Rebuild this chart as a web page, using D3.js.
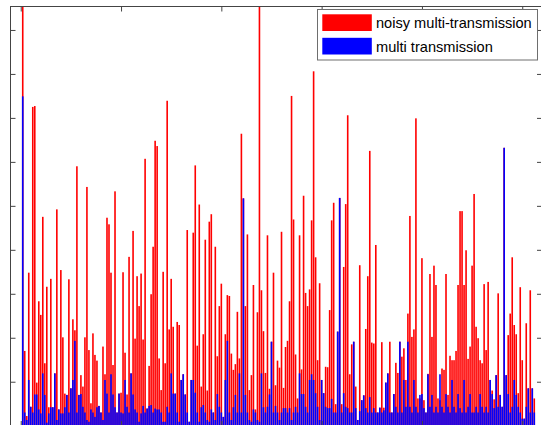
<!DOCTYPE html>
<html lang="en">
<head>
    <meta charset="UTF-8">
    <title>multi transmission bars</title>
    <script src="https://d3js.org/d3.v7.min.js"></script>
    <style>
        body{ margin:0; background:#fff; }
        text{ font-family: "Liberation Sans", Arial, sans-serif; }
    </style>
</head>
<body>
<svg id="chart" width="541" height="425"></svg>

<script>
    // noisy multi-transmission (red), one value per sample 1..256
    let noisy = [
        11, 1.70, 0.22, 3.48, 0.43, 7.25, 7.27, 0.98, 2.83, 2.52,
        4.75, 1.42, 3.16, 0.42, 3.34, 0.42, 1.19, 4.92, 0.37, 3.54,
        2.01, 0.73, 0.70, 3.33, 0.85, 2.42, 2.17, 5.90, 0.70, 1.15,
        0.89, 2.01, 5.43, 1.72, 0.51, 2.10, 1.61, 1.48, 0.45, 0.30,
        1.80, 1.17, 4.73, 4.58, 3.48, 1.38, 5.33, 0.30, 0.73, 0.75,
        3.49, 1.66, 0.71, 3.84, 1.19, 4.43, 1.98, 3.40, 2.72, 3.46,
        1.96, 6.07, 0.39, 1.36, 2.99, 4.07, 6.48, 6.36, 1.53, 0.81,
        3.50, 1.42, 7.39, 2.19, 3.34, 2.25, 0.73, 2.36, 2.29, 1.04,
        1.17, 0.71, 4.45, 0.09, 1.04, 4.39, 5.92, 1.82, 5.03, 0.89,
        2.08, 4.23, 0.80, 4.64, 4.81, 0.30, 4.07, 1.58, 2.72, 3.23,
        0.20, 2.08, 2.97, 2.95, 1.64, 1.27, 1.40, 2.59, 1.53, 6.64,
        5.17, 2.72, 4.35, 0.81, 1.15, 3.20, 0.37, 2.58, 11, 3.08,
        2.15, 1.20, 4.33, 0.84, 1.91, 3.48, 0.92, 1.48, 1.32, 4.41,
        0.86, 1.79, 1.93, 2.83, 7.5, 4.69, 1.62, 0.62, 4.33, 1.28,
        5.23, 3.02, 2.72, 3.1, 4.67, 8.06, 3.83, 1.49, 3.24, 1.04,
        0.74, 1.34, 1.33, 2.63, 4.67, 5.07, 0.49, 2.14, 5.18, 0.49,
        3.61, 5.04, 7.06, 1.17, 1.85, 1.91, 0.89, 0.13, 3.65, 0.58,
        0.69, 2.20, 3.40, 6.25, 1.89, 1.87, 4.11, 0.30, 0.41, 1.90,
        0.41, 0.98, 1.19, 1.91, 0.30, 0.72, 1.43, 1.2, 1.91, 1.57,
        1.76, 1.04, 2.55, 4.77, 2.02, 2.19, 6.99, 0.62, 0.62, 3.81,
        0.58, 0.30, 1.18, 3.45, 2.02, 3.64, 3.2, 0.62, 0.58, 1.30,
        1.27, 3.45, 0.70, 1.59, 1.49, 1.49, 1.70, 3.2, 4.88, 4.88,
        3.2, 3.99, 1.52, 1.80, 3.64, 5.27, 2.25, 1.99, 1.49, 1.42,
        3.22, 1.72, 3.27, 1.04, 0.8, 0.6, 1.15, 3.01, 0.70, 0.43,
        6.32, 1.15, 2.06, 2.55, 3.83, 2.29, 2.08, 0.74, 3.15, 1.49,
        0.16, 2.33, 0.85, 3.08, 0.85, 0.62
    ]
    // multi transmission (blue)
    let clean = [
        7.49, 0.30, 0.13, 1.04, 0.43, 0.30, 0.71, 0.71, 0.37, 0.28,
        1.19, 0.70, 0.07, 0.28, 0.42, 0.42, 1.19, 0.13, 0.37, 0.28,
        0.28, 0.42, 0.70, 0.30, 0.85, 1.04, 1.93, 0.30, 0.70, 0.72,
        0.43, 0.30, 0.13, 0.09, 0.37, 0.30, 0.20, 0.42, 0.45, 0.30,
        0.13, 1.04, 0.73, 0.30, 1.17, 0.71, 0.42, 0.30, 0.73, 0.30,
        0.28, 1.04, 0.43, 0.30, 1.19, 0.71, 0.37, 0.30, 0.09, 0.28,
        0.45, 0.30, 0.39, 0.45, 0.47, 0.30, 0.39, 0.37, 0.37, 0.30,
        0.09, 0.09, 0.43, 0.30, 1.19, 0.73, 0.73, 0.30, 0.09, 1.04,
        1.17, 0.71, 0.30, 0.09, 1.04, 1.04, 0.75, 0.30, 0.09, 0.42,
        0.47, 0.30, 0.13, 0.09, 0.37, 0.30, 0.13, 0.72, 0.43, 0.30,
        0.20, 1.04, 1.93, 0.30, 0.13, 0.42, 0.70, 0.30, 1.19, 0.30,
        5.17, 0.70, 0.30, 0.13, 0.09, 0.37, 0.30, 0.13, 0.09, 1.19,
        0.42, 0.30, 0.43, 0.71, 1.91, 0.30, 0.45, 0.30, 0.13, 0.30,
        0.40, 0.40, 0.30, 0.40, 0.13, 0.30, 0.43, 0.30, 1.19, 0.72,
        0.72, 0.43, 0.30, 1.04, 1.17, 1.04, 0.74, 0.43, 0.13, 1.04,
        0.74, 0.43, 0.40, 0.40, 0.61, 0.30, 0.30, 2.14, 5.18, 0.30,
        0.74, 0.43, 0.40, 0.30, 0.30, 1.91, 0.40, 0.13, 0.33, 0.58,
        0.69, 0.40, 0.30, 0.65, 0.30, 0.40, 0.30, 0.30, 0.41, 0.30,
        0.35, 0.98, 1.19, 0.30, 0.30, 0.72, 0.43, 0.30, 1.91, 0.30,
        1.04, 0.43, 1.91, 0.43, 0.30, 1.04, 0.43, 0.30, 0.70, 0.72,
        0.40, 0.30, 1.17, 0.43, 0.70, 0.30, 0.43, 0.30, 1.17, 0.43,
        0.30, 0.72, 0.43, 0.30, 1.04, 0.43, 0.30, 0.72, 0.40, 0.30,
        1.04, 0.30, 0.43, 0.72, 0.30, 0.30, 0.43, 0.30, 0.72, 0.43,
        0.30, 0.43, 0.30, 1.04, 0.72, 0.40, 1.15, 0.43, 0.70, 0.43,
        6.32, 1.15, 0.72, 0.30, 0.43, 1.04, 0.70, 0.43, 0.30, 0.16,
        0.16, 0.43, 0.85, 0.30, 0.85, 0.30
    ]
    let xTicks = [0, 50, 100, 150, 200, 250]
    let yTicks = [1, 2, 3, 4, 5, 6, 7, 8, 9]
    let legendLabels = ["noisy multi-transmission", "multi transmission"]
    let colors = ["#ff0000", "#0000ff"]

    let svg = d3.select("#chart")
    let x0 = 10.5, x1 = 542, y0 = 6.5, y1 = 426

    let x = d3.scaleLinear().domain([-5, 260]).range([10.7, 542.3])
    let y = d3.scaleLinear().domain([0, 9.545]).range([425.7, 6])
    let bw = 0.8 * (x(1) - x(0))

    svg.append("clipPath").attr("id", "plot")
        .append("rect")
        .attr("x", x0).attr("y", y0)
        .attr("width", x1 - x0).attr("height", y1 - y0)

    let bars = svg.append("g").attr("clip-path", "url(#plot)")

    // red first, blue drawn on top of it
    ;[noisy, clean].forEach(function (series, k) {
        bars.append("g")
            .selectAll("rect")
            .data(series)
            .join("rect")
            .attr("x", function (d, i) { return x(i + 1) - bw / 2 })
            .attr("width", bw)
            .attr("y", function (d) { return y(d) })
            .attr("height", function (d) { return y(0) - y(d) })
            .attr("fill", colors[k])
    })

    // axes box with inward ticks (matlab look)
    let axisColor = "#444"
    svg.append("rect")
        .attr("x", x0).attr("y", y0)
        .attr("width", x1 - x0).attr("height", y1 - y0)
        .attr("fill", "none")
        .attr("stroke", axisColor)

    let leftAxis = d3.axisLeft(y).tickValues(yTicks).tickSize(-5).tickFormat("")
    let rightAxis = d3.axisRight(y).tickValues(yTicks).tickSize(-5).tickFormat("")
    let topAxis = d3.axisTop(x).tickValues(xTicks).tickSize(-5).tickFormat("")
    let bottomAxis = d3.axisBottom(x).tickValues(xTicks).tickSize(-5).tickFormat("")

    ;[[leftAxis, "translate(" + x0 + ",0)"],
      [rightAxis, "translate(" + x1 + ",0)"],
      [topAxis, "translate(0," + y0 + ")"],
      [bottomAxis, "translate(0," + y1 + ")"]].forEach(function (a) {
        let g = svg.append("g").attr("transform", a[1]).call(a[0])
        g.select(".domain").remove()
        g.selectAll(".tick line").attr("stroke", axisColor)
    })

    // legend
    let legend = svg.append("g")
    legend.append("rect")
        .attr("x", 317.5).attr("y", 9.5)
        .attr("width", 220).attr("height", 50.5)
        .attr("fill", "#fff").attr("stroke", "#6e6e6e")

    legendLabels.forEach(function (label, k) {
        legend.append("rect")
            .attr("x", 322.3).attr("y", 14.3 + k * 23.5)
            .attr("width", 49.5).attr("height", 16.7)
            .attr("fill", colors[k])
        legend.append("text")
            .attr("x", 376).attr("y", 28.4 + k * 24)
            .attr("font-size", "14.6px")
            .attr("fill", "#000")
            .text(label)
    })
</script>

</body>
</html>
